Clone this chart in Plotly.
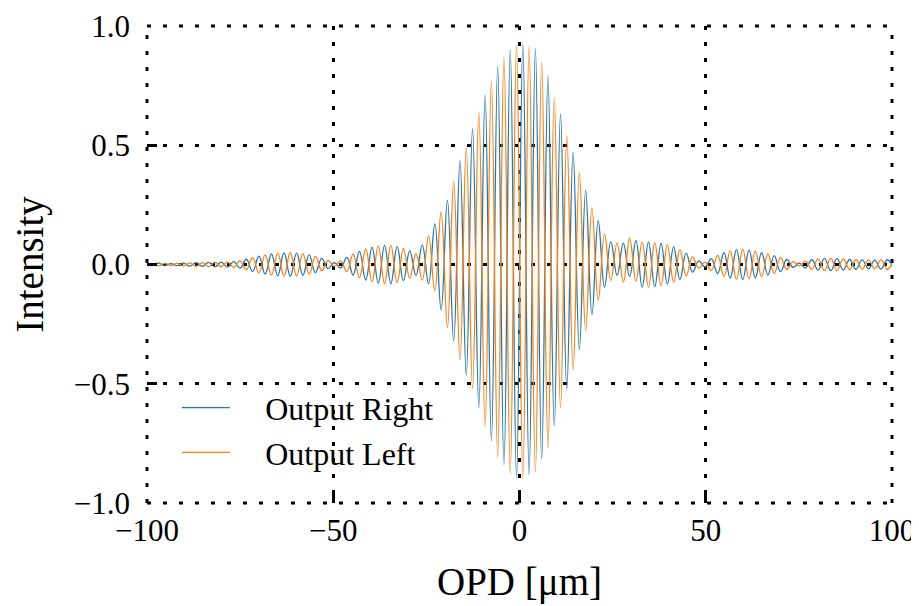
import plotly.graph_objects as go

# Fringe extrema (one every half fringe period)
opd_start = -100.33      # µm, position of first listed extremum
opd_step = 1.687         # µm between successive extrema (half fringe period)

output_right = [
    0.004, -0.005, 0.006, -0.005, 0.004, -0.005, 0.006, -0.007, 0.008, -0.008,
    0.009, -0.010, 0.010, -0.011, 0.012, -0.015, 0.022, -0.029, 0.035, -0.040,
    0.044, -0.047, 0.049, -0.050, 0.048, -0.045, 0.040, -0.034, 0.026, -0.017,
    0.008, -0.015, 0.030, -0.044, 0.055, -0.065, 0.072, -0.078, 0.080, -0.080,
    0.075, -0.068, 0.057, -0.045, 0.082, -0.080, 0.170, -0.190, 0.270, -0.320,
    0.435, -0.464, 0.570, -0.600, 0.710, -0.740, 0.830, -0.840, 0.900, -0.894,
    0.923, -0.883, 0.905, -0.816, 0.790, -0.676, 0.630, -0.523, 0.470, -0.356,
    0.310, -0.210, 0.184, -0.095, 0.096, -0.045, 0.090, -0.050, 0.100, -0.095,
    0.095, -0.092, 0.088, -0.082, 0.074, -0.062, 0.048, -0.032, 0.015, -0.010,
    0.025, -0.038, 0.050, -0.057, 0.062, -0.063, 0.060, -0.056, 0.050, -0.044,
    0.037, -0.030, 0.021, -0.012, 0.006, -0.014, 0.020, -0.024, 0.026, -0.026,
    0.025, -0.023, 0.021, -0.020, 0.019, -0.018, 0.018, -0.019, 0.020, -0.020,
]

output_left = [
    -0.004, 0.005, -0.006, 0.005, -0.004, 0.005, -0.006, 0.007, -0.008, 0.008,
    -0.009, 0.010, -0.010, 0.011, -0.012, 0.015, -0.022, 0.029, -0.035, 0.040,
    -0.044, 0.047, -0.049, 0.050, -0.048, 0.045, -0.040, 0.034, -0.026, 0.017,
    -0.008, 0.015, -0.030, 0.044, -0.055, 0.065, -0.072, 0.078, -0.080, 0.080,
    -0.075, 0.068, -0.057, 0.045, -0.065, 0.120, -0.110, 0.220, -0.265, 0.350,
    -0.400, 0.490, -0.520, 0.640, -0.680, 0.770, -0.810, 0.870, -0.876, 0.920,
    -0.894, 0.914, -0.870, 0.847, -0.770, 0.700, -0.600, 0.540, -0.440, 0.384,
    -0.276, 0.236, -0.150, 0.128, -0.067, 0.090, -0.074, 0.110, -0.070, 0.095,
    -0.095, 0.092, -0.088, 0.082, -0.074, 0.062, -0.048, 0.032, -0.015, 0.010,
    -0.025, 0.038, -0.050, 0.057, -0.062, 0.063, -0.060, 0.056, -0.050, 0.044,
    -0.037, 0.030, -0.021, 0.012, -0.006, 0.014, -0.020, 0.024, -0.026, 0.026,
    -0.025, 0.023, -0.021, 0.020, -0.019, 0.018, -0.018, 0.019, -0.020, 0.020,
]

x_ticks = [-100, -50, 0, 50, 100]
x_tick_labels = ["\u2212100", "\u221250", "0", "50", "100"]
y_ticks = [-1.0, -0.5, 0.0, 0.5, 1.0]
y_tick_labels = ["\u22121.0", "\u22120.5", "0.0", "0.5", "1.0"]

FONT = "Liberation Serif, Times New Roman, serif"
DOTS = "4px,12px"
GAP = "\u00a0\u00a0\u00a0\u2009"

fig = go.Figure()
fig.add_trace(go.Scatter(
    x0=opd_start, dx=opd_step, y=output_right, mode="lines",
    name=GAP + "Output Right", legendgroup="r",
    line=dict(color="#1f77b4", width=1.3, shape="spline", smoothing=1.2),
))
fig.add_trace(go.Scatter(
    x0=opd_start, dx=opd_step, y=output_left, mode="lines",
    name=GAP + "Output Left", legendgroup="l",
    line=dict(color="#ff7f0e", width=1.3, shape="spline", smoothing=1.2),
))

grid = dict(showgrid=True, gridcolor="black", gridwidth=3, griddash=DOTS,
            zeroline=False, showline=False, automargin=False,
            ticks="inside", ticklen=10, tickwidth=2.5, tickcolor="black",
            tickfont=dict(family=FONT, size=31, color="black"))

# dotted frame at the plot edges (matplotlib draws grid lines there too)
for e in (0, 1):
    fig.add_shape(type="line", xref="paper", yref="paper", x0=e, x1=e, y0=0, y1=1,
                  line=dict(color="black", width=3, dash=DOTS), layer="below")
    fig.add_shape(type="line", xref="paper", yref="paper", x0=0, x1=1, y0=e, y1=e,
                  line=dict(color="black", width=3, dash=DOTS), layer="below")

# opaque legend background (covers grid lines only, sits below the legend)
fig.add_shape(type="rect", xref="paper", yref="paper", x0=0.005, x1=0.40,
              y0=0.022, y1=0.238, fillcolor="white", line=dict(width=0),
              layer="between")

fig.update_layout(
    width=911, height=598,
    margin=dict(l=139, r=27, t=18, b=103),
    paper_bgcolor="white", plot_bgcolor="white",
    font=dict(family=FONT, color="black"),
    xaxis=dict(range=[-100, 100], tickvals=x_ticks, ticktext=x_tick_labels,
               title=dict(text="OPD [\u03bcm]", font=dict(family=FONT, size=39), standoff=20),
               ticklabelstandoff=6, **grid),
    yaxis=dict(range=[-1.0, 1.0], tickvals=y_ticks, ticktext=y_tick_labels,
               title=dict(text="Intensity", font=dict(family=FONT, size=39), standoff=22),
               ticklabelstandoff=16, **grid),
    legend=dict(x=0.04, y=0.257, xanchor="left", yanchor="top",
                bgcolor="rgba(0,0,0,0)", borderwidth=0, itemwidth=48, tracegroupgap=0,
                font=dict(family=FONT, size=32, color="black")),
    showlegend=True,
)

fig.write_html("out.html")
